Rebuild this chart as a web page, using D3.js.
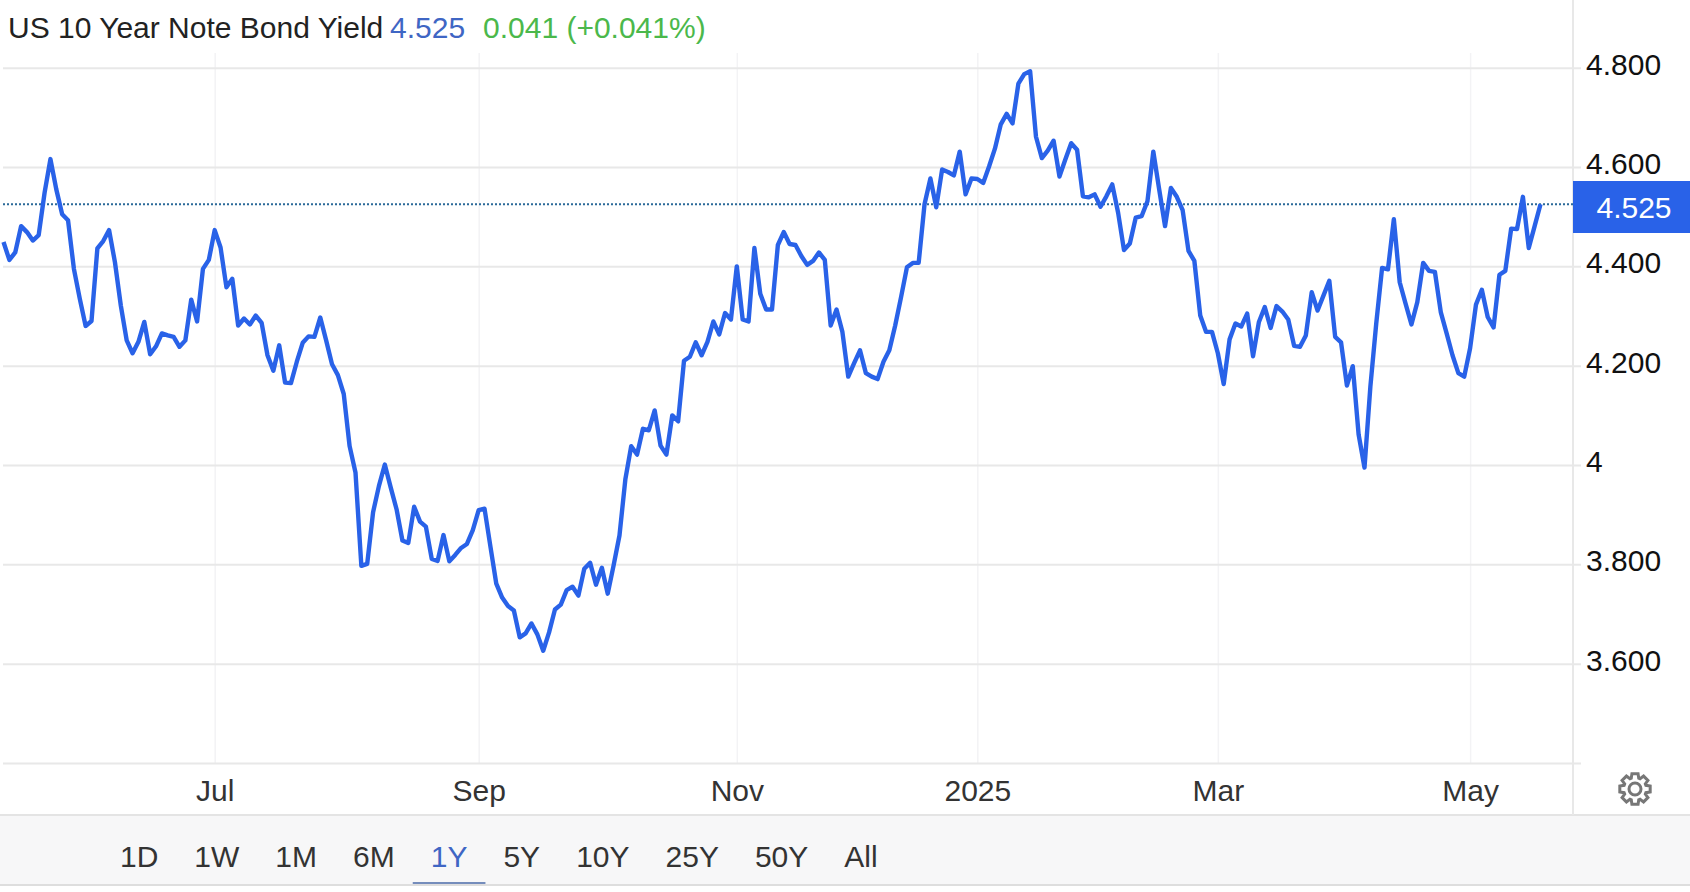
<!DOCTYPE html>
<html>
<meta charset="utf-8">
<title>US 10 Year Note Bond Yield</title>
<style>
	html, body {
		margin: 0;
		background: #fff;
	}

	svg {
		display: block;
	}

	text {
		font-family: "Liberation Sans", Arial, sans-serif;
		font-size: 30px;
	}
</style>

<body>
	<div id="chart"></div>

	<script src="https://cdnjs.cloudflare.com/ajax/libs/d3/7.8.5/d3.min.js"></script>

	<script>
		// one close per trading day
		var yields = [
			4.449, 4.413, 4.428, 4.481, 4.469, 4.452, 4.463, 4.548, 4.616, 4.555,
			4.505, 4.493, 4.395, 4.335, 4.280, 4.290, 4.436, 4.451, 4.473, 4.408,
			4.321, 4.251, 4.225, 4.248, 4.288, 4.223, 4.239, 4.265, 4.261, 4.258,
			4.238, 4.251, 4.333, 4.289, 4.395, 4.413, 4.473, 4.438, 4.358, 4.375,
			4.281, 4.295, 4.283, 4.301, 4.286, 4.221, 4.190, 4.241, 4.166, 4.165,
			4.208, 4.246, 4.259, 4.258, 4.297, 4.251, 4.203, 4.181, 4.143, 4.038,
			3.985, 3.797, 3.801, 3.905, 3.958, 4.001, 3.955, 3.911, 3.848, 3.843,
			3.916, 3.886, 3.876, 3.811, 3.807, 3.859, 3.806, 3.819, 3.833, 3.841,
			3.869, 3.909, 3.912, 3.836, 3.761, 3.733, 3.716, 3.707, 3.653, 3.661,
			3.681, 3.659, 3.626, 3.663, 3.709, 3.719, 3.748, 3.755, 3.737, 3.791,
			3.803, 3.759, 3.793, 3.741, 3.798, 3.858, 3.971, 4.038, 4.021, 4.073,
			4.070, 4.110, 4.039, 4.021, 4.100, 4.088, 4.210, 4.218, 4.247, 4.221,
			4.248, 4.289, 4.263, 4.306, 4.293, 4.400, 4.293, 4.289, 4.437, 4.345,
			4.313, 4.313, 4.443, 4.469, 4.445, 4.443, 4.421, 4.403, 4.411, 4.428,
			4.413, 4.281, 4.313, 4.268, 4.178, 4.205, 4.231, 4.185, 4.178, 4.173,
			4.208, 4.231, 4.281, 4.338, 4.398, 4.407, 4.407, 4.525, 4.577, 4.519,
			4.595, 4.590, 4.583, 4.631, 4.545, 4.577, 4.576, 4.568, 4.601, 4.637,
			4.686, 4.707, 4.688, 4.768, 4.787, 4.793, 4.661, 4.618, 4.633, 4.653,
			4.581, 4.615, 4.648, 4.635, 4.541, 4.539, 4.545, 4.520, 4.541, 4.565,
			4.508, 4.433, 4.446, 4.498, 4.501, 4.531, 4.631, 4.555, 4.481, 4.558,
			4.540, 4.513, 4.431, 4.411, 4.301, 4.268, 4.268, 4.225, 4.163, 4.253,
			4.285, 4.279, 4.305, 4.219, 4.288, 4.318, 4.276, 4.320, 4.309, 4.293,
			4.240, 4.238, 4.261, 4.348, 4.311, 4.341, 4.371, 4.258, 4.247, 4.160,
			4.199, 4.061, 3.995, 4.158, 4.285, 4.397, 4.394, 4.495, 4.368, 4.325,
			4.283, 4.328, 4.407, 4.391, 4.389, 4.308, 4.265, 4.221, 4.185, 4.178,
			4.235, 4.323, 4.353, 4.298, 4.277, 4.383, 4.391, 4.476, 4.475, 4.540,
			4.437, 4.481, 4.525
		];

		var yTicks = [3.6, 3.8, 4, 4.2, 4.4, 4.6, 4.8];
		var yTickLabels = ["3.600", "3.800", "4", "4.200", "4.400", "4.600", "4.800"];

		// x ticks sit on the trading day that opens the period
		var xTickDays = [36, 81, 125, 166, 207, 250];
		var xTickLabels = ["Jul", "Sep", "Nov", "2025", "Mar", "May"];

		var ranges = ["1D", "1W", "1M", "6M", "1Y", "5Y", "10Y", "25Y", "50Y", "All"];
		var activeRange = "1Y";

		var title = "US 10 Year Note Bond Yield";
		var lastValue = 4.525;
		var change = "0.041";
		var changePct = "(+0.041%)";

		var width = 1690,
			height = 892,
			plot = { left: 3, right: 1581, top: 53, bottom: 763 },
			axisX = 1573,
			barTop = 815,
			barBottom = 885;

		var blue = "#2962e8",
			gridColor = "#e8e8e8";

		var svg = d3.select("#chart").append("svg")
			.attr("width", width)
			.attr("height", height);

		var x = d3.scaleLinear()
			.domain([0, yields.length - 1])
			.range([3.5, 1540.5]);

		var y = d3.scaleLinear()
			.domain([3.4, 4.8])
			.range([plot.bottom, 67.7]);

		/* ---------- grid ---------- */

		var xGrid = svg.append("g")
			.attr("transform", "translate(0," + plot.bottom + ")")
			.call(d3.axisBottom(x)
				.tickValues(xTickDays)
				.tickSize(plot.top - plot.bottom)
				.tickFormat(""));
		xGrid.select(".domain").remove();
		xGrid.selectAll("line")
			.attr("stroke", "#f3f3f5")
			.attr("stroke-width", 1.5);

		var yGrid = svg.append("g")
			.attr("transform", "translate(" + plot.right + ",0)")
			.call(d3.axisLeft(y)
				.tickValues(yTicks.concat([3.4]))
				.tickSize(plot.right - plot.left)
				.tickFormat(""));
		yGrid.select(".domain").remove();
		yGrid.selectAll("line")
			.attr("stroke", gridColor)
			.attr("stroke-width", 2);

		/* ---------- range bar ---------- */

		svg.append("rect")
			.attr("x", 0)
			.attr("y", barTop)
			.attr("width", width)
			.attr("height", barBottom - barTop)
			.attr("fill", "#f7f7f8");

		svg.append("line")
			.attr("x1", 0).attr("x2", width)
			.attr("y1", barTop).attr("y2", barTop)
			.attr("stroke", "#e4e4e4")
			.attr("stroke-width", 2);

		svg.append("line")
			.attr("x1", 0).attr("x2", width)
			.attr("y1", barBottom).attr("y2", barBottom)
			.attr("stroke", "#dedede")
			.attr("stroke-width", 2);

		var btnPad = 18,
			btnX = 102;

		ranges.forEach(function (r) {
			var active = r === activeRange;
			var t = svg.append("text")
				.attr("x", btnX + btnPad)
				.attr("y", 867)
				.attr("fill", active ? "#3f66c4" : "#333")
				.text(r);
			var w = t.node().getComputedTextLength() + btnPad * 2;
			if (active) {
				svg.append("line")
					.attr("x1", btnX).attr("x2", btnX + w)
					.attr("y1", 883).attr("y2", 883)
					.attr("stroke", "#4a6aa8")
					.attr("stroke-width", 1.5);
			}
			btnX += w;
		});

		/* ---------- axes ---------- */

		svg.append("line")
			.attr("x1", axisX).attr("x2", axisX)
			.attr("y1", 0).attr("y2", barTop)
			.attr("stroke", gridColor)
			.attr("stroke-width", 2);

		svg.append("g")
			.attr("transform", "translate(" + 1586 + ",0)")
			.call(d3.axisRight(y)
				.tickValues(yTicks)
				.tickSize(0)
				.tickPadding(0)
				.tickFormat(function (d, i) { return yTickLabels[i]; }))
			.call(function (g) {
				g.select(".domain").remove();
				g.selectAll("text")
					.attr("dy", 6.5)
					.attr("fill", "#111");
			});

		svg.append("g")
			.attr("transform", "translate(0," + 801 + ")")
			.call(d3.axisBottom(x)
				.tickValues(xTickDays)
				.tickSize(0)
				.tickPadding(0)
				.tickFormat(function (d, i) { return xTickLabels[i]; }))
			.call(function (g) {
				g.select(".domain").remove();
				g.selectAll("text")
					.attr("y", 0)
					.attr("dy", 0)
					.attr("fill", "#333");
			});

		// axis() writes its own font on each g, let the css one win
		svg.selectAll("g").attr("font-size", null).attr("font-family", null);

		/* ---------- last value marker ---------- */

		svg.append("line")
			.attr("x1", plot.left).attr("x2", axisX)
			.attr("y1", y(lastValue)).attr("y2", y(lastValue))
			.attr("stroke", "#2b6a99")
			.attr("stroke-width", 2)
			.attr("stroke-dasharray", "2 2");

		svg.append("rect")
			.attr("x", axisX)
			.attr("y", 181)
			.attr("width", width - axisX)
			.attr("height", 52)
			.attr("fill", blue);

		svg.append("text")
			.attr("x", 1634)
			.attr("y", 218)
			.attr("text-anchor", "middle")
			.attr("fill", "#fff")
			.text(d3.format(".3f")(lastValue));

		/* ---------- line ---------- */

		var line = d3.line()
			.x(function (d, i) { return x(i); })
			.y(function (d) { return y(d); });

		svg.append("path")
			.datum(yields)
			.attr("d", line)
			.attr("fill", "none")
			.attr("stroke", blue)
			.attr("stroke-width", 4.4)
			.attr("stroke-linejoin", "round");

		/* ---------- header ---------- */

		var head = svg.append("text").attr("x", 8).attr("y", 38);
		head.append("tspan").attr("fill", "#222").text(title);
		head.append("tspan").attr("x", 390).attr("fill", "#3f66c4").text(d3.format(".3f")(lastValue));
		head.append("tspan").attr("x", 483).attr("fill", "#4bb84b").text(change + " " + changePct);

		/* ---------- settings gear ---------- */

		var gearPts = [];
		d3.range(8).forEach(function (k) {
			var a = k * Math.PI / 4;
			gearPts.push([a - 0.33, 11.5], [a - 0.2, 15.5], [a + 0.2, 15.5], [a + 0.33, 11.5]);
		});

		var gear = svg.append("g")
			.attr("transform", "translate(1635,789)")
			.attr("fill", "none")
			.attr("stroke", "#777")
			.attr("stroke-width", 3);

		gear.append("path")
			.attr("d", d3.lineRadial().curve(d3.curveLinearClosed)(gearPts));

		gear.append("circle").attr("r", 6);
	</script>
</body>

</html>
